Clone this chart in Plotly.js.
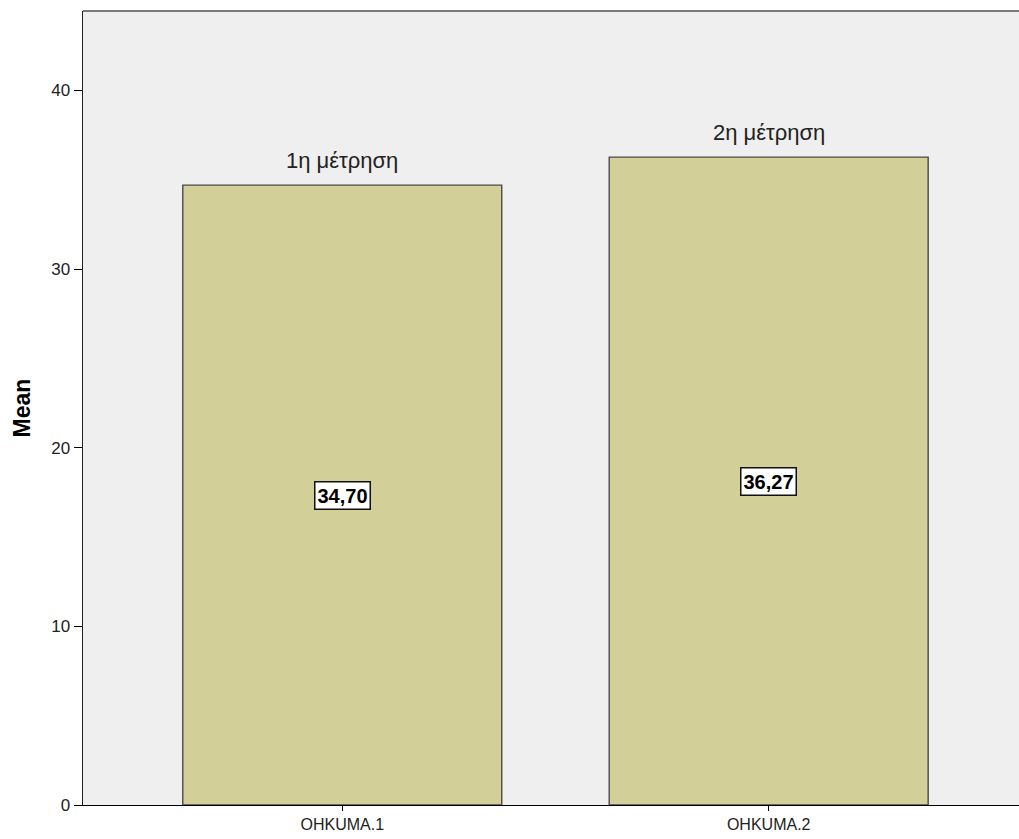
<!DOCTYPE html>
<html>
<head>
<meta charset="utf-8">
<script src="https://cdn.plot.ly/plotly-3.0.1.min.js"></script>
<style>
  html, body { margin: 0; padding: 0; background: #ffffff; overflow: hidden; }
  #chart { width: 1019px; height: 839px; }
</style>
</head>
<body>
<div id="chart"></div>
<script>
// Variables and their mean scores
const variables = ['OHKUMA.1', 'OHKUMA.2'];
const measurementLabels = ['1η μέτρηση', '2η μέτρηση'];
const means = [34.70, 36.27];

const positions = variables.map((_, i) => i);
const fmt = v => v.toFixed(2).replace('.', ',');

const font = 'Liberation Sans, Arial, sans-serif';

const trace = {
  type: 'bar',
  x: positions,
  y: means,
  width: 0.748,
  marker: { color: '#d3cf99', line: { color: '#4a4a4a', width: 1.4 } },
  hoverinfo: 'none'
};

const annotations = [];
means.forEach((m, i) => {
  // measurement name above each bar
  annotations.push({
    x: positions[i], y: m, xref: 'x', yref: 'y',
    text: measurementLabels[i], showarrow: false,
    yanchor: 'bottom', yshift: 10,
    font: { family: font, size: 22, color: '#222' }
  });
  // boxed mean value at mid-height
  annotations.push({
    x: positions[i], y: m / 2, xref: 'x', yref: 'y',
    text: '<b>' + fmt(m) + '</b>', showarrow: false,
    bgcolor: '#ffffff', bordercolor: '#111111', borderwidth: 1.5, borderpad: 2,
    font: { family: font, size: 20, color: '#000' }
  });
});

const layout = {
  width: 1019,
  height: 839,
  margin: { l: 83, r: 0, t: 11, b: 34 },
  paper_bgcolor: '#ffffff',
  plot_bgcolor: '#efefef',
  showlegend: false,
  bargap: 0,
  xaxis: {
    range: [-0.608, 1.587],
    tickvals: positions,
    ticktext: variables,
    showgrid: false, zeroline: false,
    showline: true, linecolor: '#000', linewidth: 1,
    ticks: 'outside', ticklen: 5, tickcolor: '#000', tickwidth: 1,
    tickfont: { family: font, size: 16, color: '#222' },
    fixedrange: true
  },
  yaxis: {
    range: [0, 44.45],
    tickvals: [0, 10, 20, 30, 40],
    showgrid: false, zeroline: false,
    showline: true, linecolor: '#222', linewidth: 1.5,
    ticks: 'outside', ticklen: 8, tickcolor: '#000', tickwidth: 1,
    tickfont: { family: font, size: 17, color: '#222' },
    title: { text: '<b>Mean</b>', font: { family: font, size: 23, color: '#000' }, standoff: 14 },
    fixedrange: true
  },
  shapes: [{
    type: 'line', xref: 'paper', yref: 'paper',
    x0: 0, x1: 1, y0: 1, y1: 1,
    line: { color: '#7a7a7a', width: 2 }
  }],
  annotations: annotations
};

Plotly.newPlot('chart', [trace], layout, { displayModeBar: false, staticPlot: true });
</script>
</body>
</html>
